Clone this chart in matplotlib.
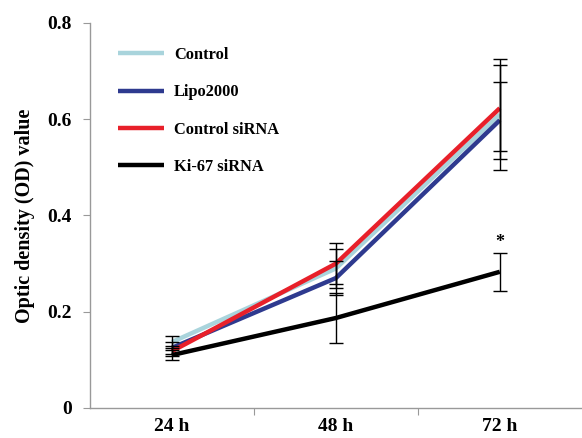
import matplotlib
matplotlib.use("Agg")
import matplotlib.pyplot as plt
import numpy as np

categories = ["24 h", "48 h", "72 h"]
series_names = ["Control", "Lipo2000", "Control siRNA", "Ki-67 siRNA"]
control = [0.137, 0.290, 0.610]
lipo = [0.125, 0.270, 0.598]
control_sirna = [0.118, 0.300, 0.623]
ki67 = [0.110, 0.187, 0.283]
control_err = [0.012, 0.040, 0.115]
lipo_err = [0.012, 0.035, 0.080]
control_sirna_err = [0.010, 0.043, 0.090]
ki67_err = [0.010, 0.052, 0.040]
yticks = [0, 0.2, 0.4, 0.6, 0.8]
ytick_labels = ["0", "0.2", "0.4", "0.6", "0.8"]

colors = ["#a9d4dc", "#2e3a8f", "#e8202a", "#000000"]
values = [control, lipo, control_sirna, ki67]
errs = [control_err, lipo_err, control_sirna_err, ki67_err]

plt.rcParams['font.family'] = ['Liberation Serif', 'DejaVu Serif']
plt.rcParams['font.weight'] = 'bold'

fig = plt.figure(figsize=(5.82, 4.38), dpi=100)
ax = fig.add_axes([0.1546, 0.0685, 0.845, 0.879])

x = np.arange(len(categories))
for name, v, e, c in zip(series_names, values, errs, colors):
    ax.plot(x, v, color=c, lw=3.2, label=name, solid_capstyle='butt', zorder=3)
    ax.errorbar(x, v, yerr=e, fmt='none', ecolor='black', elinewidth=1.0,
                capsize=5, capthick=1.0, zorder=4)

ax.text(x[2], ki67[2] + ki67_err[2] + 0.02, "*", ha='center', va='center',
        fontsize=13, fontweight='bold')

ax.set_xlim(-0.5, 2.5)
ax.set_ylim(0, 0.8)
ax.set_yticks(yticks)
ax.set_yticklabels(ytick_labels)
ax.set_xticks([0.5, 1.5])
ax.set_xticklabels([])
ax.set_xticks(x, minor=True)
ax.set_xticklabels(categories, minor=True)
ax.tick_params(axis='x', which='minor', length=0, pad=7, labelsize=14)
ax.tick_params(axis='x', which='major', length=5, color='#999999')
ax.tick_params(axis='y', length=5, color='#999999', labelsize=14, pad=8)
for s in ['top', 'right']:
    ax.spines[s].set_visible(False)
for s in ['left', 'bottom']:
    ax.spines[s].set_color('#999999')
    ax.spines[s].set_linewidth(1.0)

ax.set_ylabel("Optic density (OD) value", fontsize=14.5, fontweight='bold', labelpad=9)

leg = ax.legend(loc='upper left', bbox_to_anchor=(0.028, 0.976), frameon=False,
                fontsize=11.8, handlelength=2.75, labelspacing=1.3, handletextpad=0.65)
for t in leg.get_texts():
    t.set_fontweight('bold')

fig.savefig("out.png", dpi=100)
